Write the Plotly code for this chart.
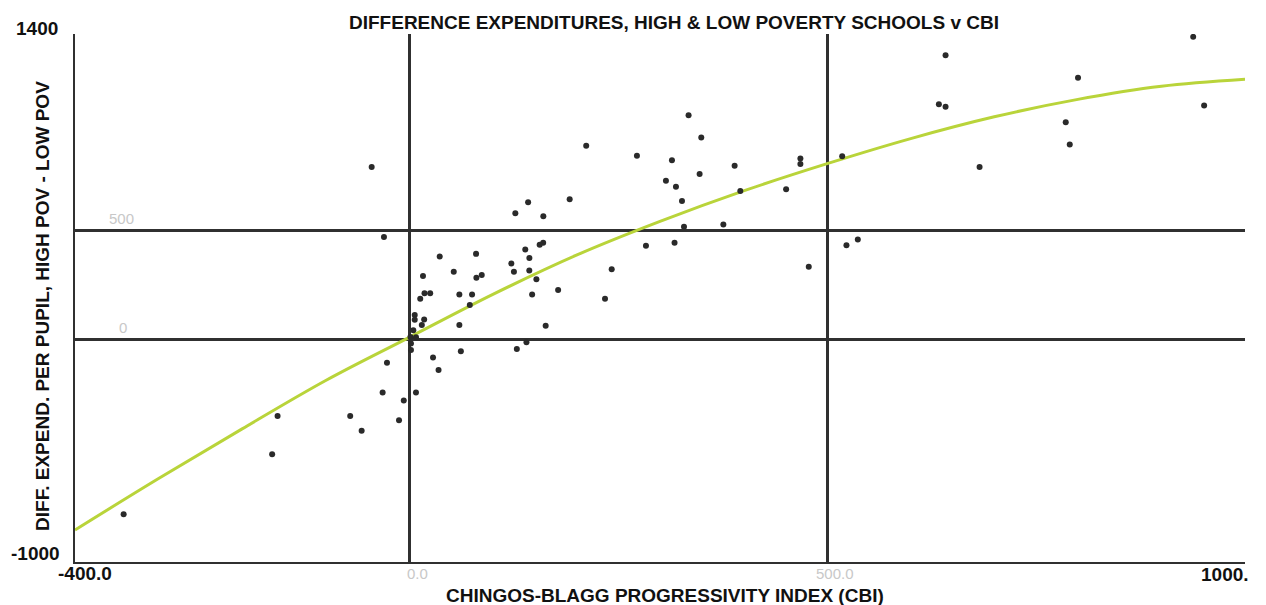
import plotly.graph_objects as go

# ---------------- data ----------------
cbi = [334.2, 349.4, 211.7, 272.4, 314.3, 468.0, 468.0, 518.0, 389.3, 347.4,
       307.1, 319.1, 450.9, 396.1, 326.3, 191.9, 142.2, 126.9, 160.4, 375.8,
       328.7, 283.2, 317.4, 523.1, 536.7, 478.0, 160.2, 156.0, 138.8, 143.7,
       122.1, 125.2, 143.6, 152.1, 36.4, 79.9, 53.2, 16.4, 80.3, 86.7,
       18.2, 25.0, 13.1, 59.9, 75.1, 178.1, 147.0, 242.2, 234.2, 72.4,
       6.5, 6.5, 17.8, 15.0, 59.9, 163.2, 4.8, 8.0, 1.4, 2.0,
       2.0, 140.2, 128.7, 61.7, 28.4, 35.0, -26.7, -31.9, 8.0, -6.6,
       -30.3, -45.0, -157.6, -164.1, -341.8, -70.7, -57.0, -12.3,
       641.7, 938.0, 800.2, 633.7, 641.7, 951.1, 785.5, 790.3, 682.4]
diff = [1027, 925, 887, 841, 821, 829, 803, 839, 795, 757,
        726, 699, 687, 680, 634, 642, 628, 577, 564, 526,
        515, 428, 442, 430, 457, 332, 442, 433, 411, 372,
        347, 309, 315, 275, 379, 391, 309, 289, 281, 294,
        210, 210, 185, 205, 205, 225, 205, 320, 185, 156,
        111, 89, 90, 65, 65, 61, 41, 8, 9, -20,
        -50, -15, -46, -56, -85, -142, -109, -245, -245, -282,
        469, 790, -353, -528, -804, -353, -421, -372,
        1303, 1387, 1199, 1078, 1066, 1072, 995, 893, 790]

fit_x = [-400, -300, -200, -100, 0, 100, 200, 300, 400, 500, 600, 700, 800, 900, 1000]
fit_y = [-876, -640, -412, -190, 8, 205, 385, 540, 680, 805, 920, 1020, 1100, 1160, 1192]

grid_vals_x = [0, 500]
grid_vals_y = [0, 500]

title_text = "DIFFERENCE EXPENDITURES, HIGH &amp; LOW POVERTY SCHOOLS v CBI"
x_title = "CHINGOS-BLAGG PROGRESSIVITY INDEX (CBI)"
y_title = "DIFF. EXPEND. PER PUPIL, HIGH POV - LOW POV"

# ---------------- figure ----------------
FONT = "Liberation Sans, Arial, sans-serif"
DARK = "#303030"
FAINT = "#c8c8c8"

fig = go.Figure()
fig.add_trace(go.Scatter(x=fit_x, y=fit_y, mode="lines",
                         line=dict(color="#b9d43a", width=3, shape="spline", smoothing=1.0),
                         hoverinfo="skip", showlegend=False))
fig.add_trace(go.Scatter(x=cbi, y=diff, mode="markers",
                         marker=dict(color="#2a2a2a", size=6),
                         showlegend=False))

fig.update_xaxes(range=[-400, 1000], tickvals=grid_vals_x, showticklabels=False,
                 showgrid=True, gridcolor=DARK, gridwidth=2.5, zeroline=False,
                 showline=True, linecolor=DARK, linewidth=2, ticks="")
fig.update_yaxes(range=[-1023, 1400], tickvals=grid_vals_y, showticklabels=False,
                 showgrid=True, gridcolor=DARK, gridwidth=2.5, zeroline=False,
                 showline=True, linecolor=DARK, linewidth=2, ticks="")

ann = []
bold = dict(family=FONT, size=19, color="#111111")
faint = dict(family=FONT, size=15, color=FAINT)
# title
ann.append(dict(text="<b>" + title_text + "</b>", xref="paper", yref="paper",
                x=0.512, y=1, yshift=12, xanchor="center", yanchor="middle",
                showarrow=False, font=bold))
# axis titles
ann.append(dict(text="<b>" + x_title + "</b>", xref="paper", yref="paper",
                x=0.504, y=0, yshift=-33, xanchor="center", yanchor="middle",
                showarrow=False, font=bold))
ann.append(dict(text="<b>" + y_title + "</b>", xref="paper", yref="paper",
                x=0, xshift=-32, y=0.485, textangle=-90, xanchor="center",
                yanchor="middle", showarrow=False, font=bold))
# bold end labels
ann.append(dict(text="<b>1400</b>", xref="paper", yref="paper", x=0, xshift=-38,
                y=1, yshift=6, xanchor="center", yanchor="middle",
                showarrow=False, font=bold))
ann.append(dict(text="<b>-1000</b>", xref="paper", yref="paper", x=0, xshift=-40,
                y=0, yshift=9, xanchor="center", yanchor="middle",
                showarrow=False, font=bold))
ann.append(dict(text="<b>-400.0</b>", xref="paper", yref="paper", x=0, xshift=10,
                y=0, yshift=-11, xanchor="center", yanchor="middle",
                showarrow=False, font=bold))
ann.append(dict(text="<b>1000.</b>", xref="paper", yref="paper", x=1, xshift=-20,
                y=0, yshift=-12, xanchor="center", yanchor="middle",
                showarrow=False, font=bold))
# faint inner labels
ann.append(dict(text="0.0", xref="x", yref="paper", x=0, xshift=8, y=0, yshift=-11,
                xanchor="center", yanchor="middle", showarrow=False, font=faint))
ann.append(dict(text="500.0", xref="x", yref="paper", x=500, xshift=8, y=0, yshift=-11,
                xanchor="center", yanchor="middle", showarrow=False, font=faint))
ann.append(dict(text="500", xref="x", yref="y", x=-400, xshift=46, y=500, yshift=12,
                xanchor="center", yanchor="middle", showarrow=False, font=faint))
ann.append(dict(text="0", xref="x", yref="y", x=-400, xshift=48, y=0, yshift=12,
                xanchor="center", yanchor="middle", showarrow=False, font=faint))

# page body has an 8px margin: size the figure so the plot area lands where the
# reference has it (x 75..1245, y 34..562 in window pixels)
fig.update_layout(width=1258, height=597,
                  margin=dict(l=67, r=21, t=26, b=43),
                  paper_bgcolor="white", plot_bgcolor="white",
                  annotations=ann, showlegend=False,
                  font=dict(family=FONT))

fig.write_html("out.html", config={"displayModeBar": False})
